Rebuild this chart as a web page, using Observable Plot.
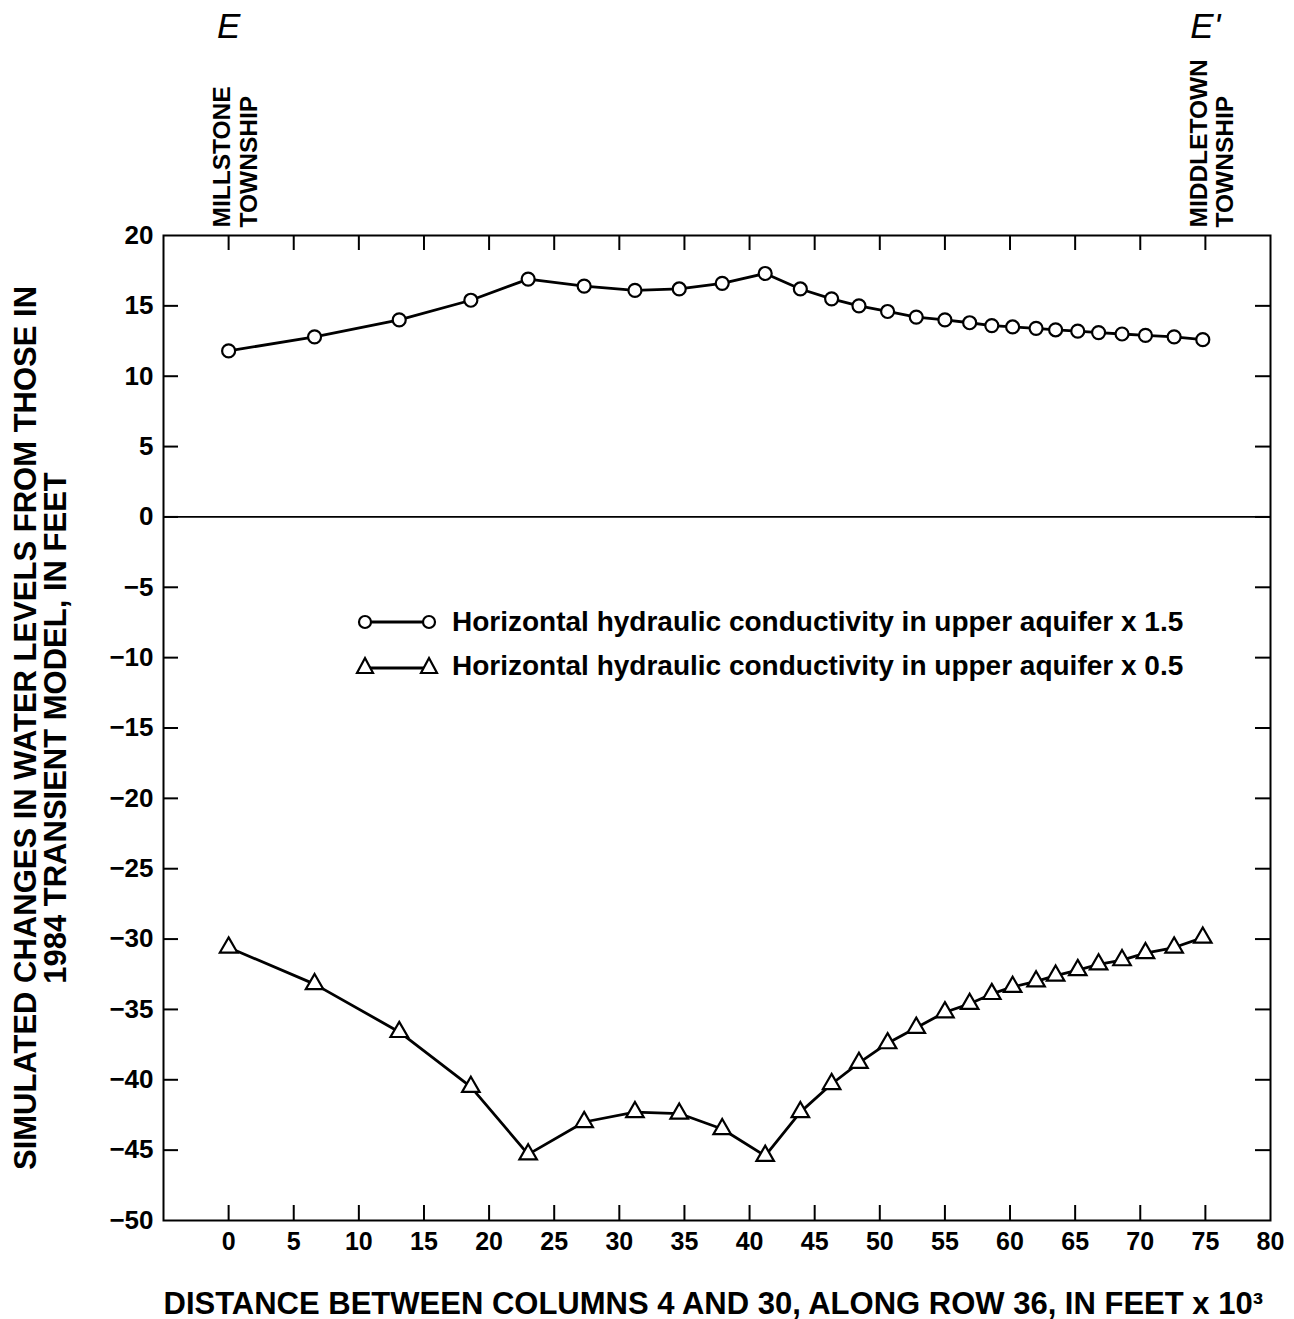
<!DOCTYPE html>
<html><head><meta charset="utf-8">
<script src="https://cdn.jsdelivr.net/npm/d3@7"></script>
<script src="https://cdn.jsdelivr.net/npm/@observablehq/plot@0.6"></script>
<style>
body{margin:0;background:#fff;}
#wrap{position:relative;width:1294px;height:1319px;font-family:"Liberation Sans",Arial,Helvetica,sans-serif;}
#legend{position:absolute;left:352px;top:600px;font-weight:bold;font-size:28px;color:#000;}
.row{display:flex;align-items:center;height:44px;white-space:nowrap;}
.row svg{flex:none;}
</style></head><body><div id="wrap"></div>
<script>
// Distance along section (feet x 10^3)
const distance = [0, 6.6, 13.1, 18.6, 23.0, 27.3, 31.2, 34.6, 37.9, 41.2, 43.9, 46.3, 48.4, 50.6, 52.8, 55.0, 56.9, 58.6, 60.2, 62.0, 63.5, 65.2, 66.8, 68.6, 70.4, 72.6, 74.8];
// Horizontal hydraulic conductivity in upper aquifer x 1.5
const changeK15 = [11.8, 12.8, 14.0, 15.4, 16.9, 16.4, 16.1, 16.2, 16.6, 17.3, 16.2, 15.5, 15.0, 14.6, 14.2, 14.0, 13.8, 13.6, 13.5, 13.4, 13.3, 13.2, 13.1, 13.0, 12.9, 12.8, 12.6];
// Horizontal hydraulic conductivity in upper aquifer x 0.5
const changeK05 = [-30.6, -33.2, -36.6, -40.5, -45.3, -43.0, -42.3, -42.4, -43.5, -45.4, -42.3, -40.3, -38.8, -37.4, -36.3, -35.2, -34.6, -33.9, -33.4, -33.0, -32.6, -32.2, -31.8, -31.5, -31.0, -30.6, -29.9];

const yTicks = [-50, -45, -40, -35, -30, -25, -20, -15, -10, -5, 0, 5, 10, 15, 20];
const xTicks = [0, 5, 10, 15, 20, 25, 30, 35, 40, 45, 50, 55, 60, 65, 70, 75, 80];
const endLetters = ["E", "E'"];
const endDistances = [0, 75];
const townships = ["MILLSTONE\nTOWNSHIP", "MIDDLETOWN\nTOWNSHIP"];
const seriesNames = ["Horizontal hydraulic conductivity in upper aquifer x 1.5", "Horizontal hydraulic conductivity in upper aquifer x 0.5"];
const xTitle = ["DISTANCE BETWEEN COLUMNS 4 AND 30, ALONG ROW 36, IN FEET x 10\u00B3"];
const yTitle = ["SIMULATED CHANGES IN WATER LEVELS FROM THOSE IN\n1984 TRANSIENT MODEL, IN FEET"];

const W = 1294, H = 1319, mt = 235, mb = 99, ml = 163, mr = 24;
const fw = W - ml - mr, fh = H - mt - mb;
const tickLen = 15;

const high = distance.map((x, i) => ({x, y: changeK15[i]}));
const low = distance.map((x, i) => ({x, y: changeK05[i]}));
const innerY = yTicks.slice(1, -1);
const innerX = xTicks.slice(0, -1);
const font = "Liberation Sans, Arial, Helvetica, sans-serif";

const chart = Plot.plot({
  width: W, height: H,
  marginTop: mt, marginBottom: mb, marginLeft: ml, marginRight: mr,
  style: {fontFamily: font, background: "white", color: "black"},
  x: {domain: [-5, 80]},
  y: {domain: [-50, 20]},
  marks: [
    Plot.ruleY([0], {stroke: "black", strokeWidth: 1.8}),
    Plot.frame({stroke: "black", strokeWidth: 2}),
    Plot.tickY(innerY, {y: d => d, insetRight: fw - tickLen, stroke: "black", strokeWidth: 2}),
    Plot.tickY(innerY, {y: d => d, insetLeft: fw - tickLen, stroke: "black", strokeWidth: 2}),
    Plot.tickX(innerX, {x: d => d, insetTop: fh - tickLen, stroke: "black", strokeWidth: 2}),
    Plot.tickX(innerX, {x: d => d, insetBottom: fh - tickLen, stroke: "black", strokeWidth: 2}),
    Plot.axisY(yTicks, {tickSize: 0, tickPadding: 10, fontSize: 26, fontWeight: "bold", label: null}),
    Plot.axisX(xTicks, {tickSize: 0, tickPadding: 12, fontSize: 25, fontWeight: "bold", label: null}),
    Plot.line(high, {x: "x", y: "y", curve: "linear", stroke: "black", strokeWidth: 2.8, strokeLinejoin: "round"}),
    Plot.line(low, {x: "x", y: "y", curve: "linear", stroke: "black", strokeWidth: 2.8, strokeLinejoin: "round"}),
    Plot.dot(high, {x: "x", y: "y", r: 6.5, symbol: "circle", fill: "white", stroke: "black", strokeWidth: 2.2}),
    Plot.dot(low, {x: "x", y: "y", r: 6.5, symbol: "triangle", fill: "white", stroke: "black", strokeWidth: 2.2}),
    Plot.text(endLetters, {x: (d, i) => endDistances[i], text: d => d, frameAnchor: "top", dy: -222, fontSize: 35, fontStyle: "italic"}),
    Plot.text(townships, {x: (d, i) => endDistances[i], text: d => d, frameAnchor: "top", rotate: -90, textAnchor: "start", dx: -18, dy: -8, fontSize: 24.5, fontWeight: "bold", lineHeight: 1.1}),
    Plot.text(yTitle, {text: d => d, frameAnchor: "left", rotate: -90, textAnchor: "middle", dx: -122, fontSize: 31, fontWeight: "bold", lineHeight: 0.97}),
    Plot.text(xTitle, {text: d => d, frameAnchor: "bottom-left", textAnchor: "start", dy: 93, fontSize: 31, fontWeight: "bold"})
  ]
});
const wrap = document.getElementById("wrap");
wrap.appendChild(chart);

// Legend overlay
const legend = document.createElement("div");
legend.id = "legend";
const symbols = ["circle", "triangle"];
seriesNames.forEach((name, i) => {
  const row = document.createElement("div");
  row.className = "row";
  const ns = "http://www.w3.org/2000/svg";
  const svg = document.createElementNS(ns, "svg");
  svg.setAttribute("width", 100); svg.setAttribute("height", 30);
  const line = document.createElementNS(ns, "line");
  const cy = symbols[i] === "circle" ? 15 : 17;
  line.setAttribute("x1", 13); line.setAttribute("x2", 77);
  line.setAttribute("y1", cy); line.setAttribute("y2", cy);
  line.setAttribute("stroke", "black"); line.setAttribute("stroke-width", 2.8);
  svg.appendChild(line);
  [13, 77].forEach(cx => {
    let el;
    if (symbols[i] === "circle") {
      el = document.createElementNS(ns, "circle");
      el.setAttribute("cx", cx); el.setAttribute("cy", 15); el.setAttribute("r", 6);
    } else {
      el = document.createElementNS(ns, "path");
      el.setAttribute("d", `M${cx},${7}L${cx + 8},${22}L${cx - 8},${22}Z`);
    }
    el.setAttribute("fill", "white"); el.setAttribute("stroke", "black"); el.setAttribute("stroke-width", 2.2);
    svg.appendChild(el);
  });
  row.appendChild(svg);
  const span = document.createElement("span");
  span.textContent = name;
  row.appendChild(span);
  legend.appendChild(row);
});
wrap.appendChild(legend);
</script>
</body></html>
